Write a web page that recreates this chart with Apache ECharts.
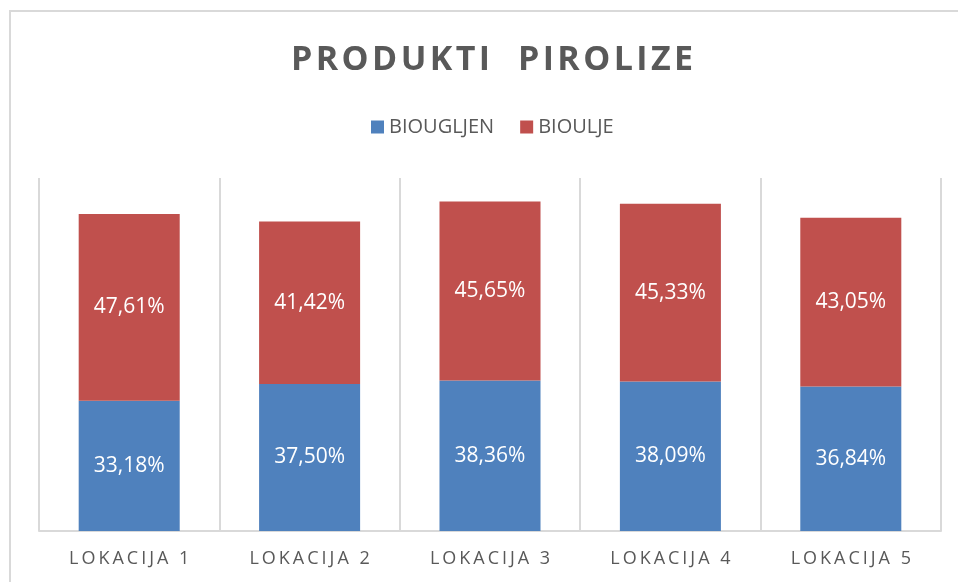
<!DOCTYPE html>
<html><head><meta charset="utf-8">
<script src="https://cdn.jsdelivr.net/npm/echarts@6/dist/echarts.min.js"></script>
<style>html,body{margin:0;padding:0;background:#fff}#c{width:958px;height:582px}</style>
</head><body><div id="c"></div>
<script>
const categories = ['LOKACIJA 1','LOKACIJA 2','LOKACIJA 3','LOKACIJA 4','LOKACIJA 5'];
const biougljen = [33.18, 37.50, 38.36, 38.09, 36.84];
const bioulje = [47.61, 41.42, 45.65, 45.33, 43.05];
const seriesNames = ['BIOUGLJEN','BIOULJE'];
const titleText = 'PRODUKTI  PIROLIZE';

function spaced(s, sp){ return s.split('').join(sp); }
const fmt = p => p.value.toFixed(2).replace('.', ',') + '%';

const chart = echarts.init(document.getElementById('c'));
chart.setOption({
  animation:false,
  graphic:[{type:'rect', shape:{x:10,y:11,width:1000,height:1000}, style:{fill:'none', stroke:'#D9D9D9', lineWidth:2}, silent:true}],
  title:{text: spaced(titleText,'\u200A'), left:286, top:38,
    textStyle:{fontFamily:'Open Sans', fontWeight:'bold', fontSize:34, color:'#595959'}},
  legend:{data:seriesNames, top:112, left:366, itemWidth:13, itemHeight:13, itemGap:26, icon:'rect',
    textStyle:{fontFamily:'Open Sans', fontSize:20, color:'#595959'}},
  grid:{left:39, right:17, top:178, bottom:51},
  xAxis:{type:'category', data:categories,
    axisLine:{lineStyle:{color:'#D9D9D9', width:2}}, axisTick:{show:false},
    splitLine:{show:true, lineStyle:{color:'#D9D9D9', width:2}},
    axisLabel:{margin:19, fontFamily:'Open Sans', fontSize:18, color:'#595959', formatter:v=>spaced(v,'\u2009')}},
  yAxis:{type:'value', min:0, max:90, show:false, splitLine:{show:false}},
  series:[
    {name:seriesNames[0], type:'bar', stack:'a', data:biougljen, barWidth:'56%', itemStyle:{color:'#4F81BD'},
      label:{show:true, position:'inside', color:'#fff', fontFamily:'Open Sans', fontSize:21, formatter:fmt}},
    {name:seriesNames[1], type:'bar', stack:'a', data:bioulje, barWidth:'56%', itemStyle:{color:'#C0504D'},
      label:{show:true, position:'inside', color:'#fff', fontFamily:'Open Sans', fontSize:21, formatter:fmt}}
  ]
});
</script></body></html>
